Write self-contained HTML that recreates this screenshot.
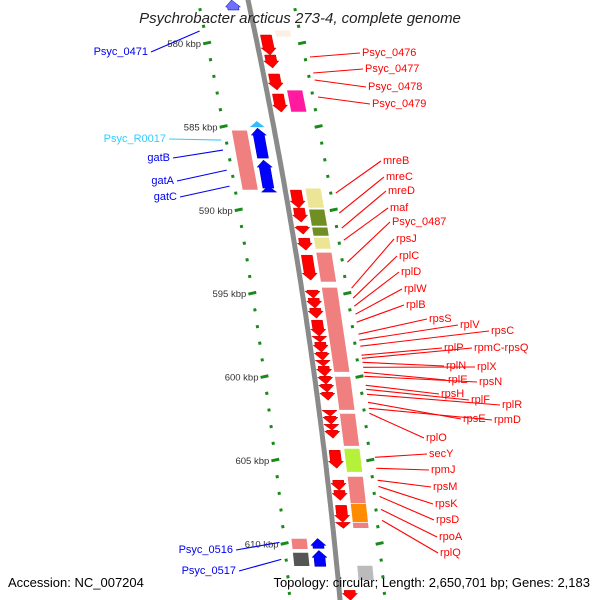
<!DOCTYPE html>
<html><head><meta charset="utf-8"><style>
html,body{margin:0;padding:0;background:#fff;}
svg{display:block;font-family:"Liberation Sans","DejaVu Sans",sans-serif;}
</style></head><body>
<svg id="map" width="600" height="600" viewBox="0 0 600 600" xmlns="http://www.w3.org/2000/svg">
<defs>
<linearGradient id="bb" x1="0" x2="1" y1="0" y2="0"><stop offset="0" stop-color="#555"/><stop offset="0.5" stop-color="#aaa"/><stop offset="1" stop-color="#666"/></linearGradient>
</defs>
<g id="dots"></g>
<path id="backbone" fill="none" stroke="#8a8a8a" stroke-width="5"/>
<g id="genes"></g>
<g id="labels"></g>
<text x="300" y="23" text-anchor="middle" font-size="15" font-style="italic" fill="#222">Psychrobacter arcticus 273-4, complete genome</text>
<text x="8" y="587" font-size="13" fill="#000">Accession: NC_007204</text>
<text x="590" y="587" text-anchor="end" font-size="13" fill="#000">Topology: circular; Length: 2,650,701 bp; Genes: 2,183</text>
</svg>
<script>
// kbp ticks
const tickKbp = [580,585,590,595,600,605,610];
// forward-strand (right) red arrows: starts/ends in kbp
const fwdStart = [579.52,580.72,581.86,583.06,588.82,589.90,590.98,591.70,592.72,594.82,595.30,595.90,596.62,597.58,597.94,598.54,599.02,599.38,599.98,600.46,600.94,602.02,602.38,602.86,603.22,604.42,606.22,606.82,607.72,608.74,612.82];
const fwdEnd   = [580.72,581.50,582.82,584.14,589.90,590.74,591.46,592.42,594.22,595.30,595.90,596.50,597.58,597.94,598.54,599.02,599.38,599.98,600.46,600.94,601.42,602.38,602.86,603.22,603.70,605.50,606.82,607.42,608.74,609.10,613.42];
// category boxes column (right)
const boxStart = [579.22,582.82,588.70,589.96,591.04,591.64,592.54,594.64,599.98,602.20,604.30,605.98,607.60,608.74,611.32];
const boxEnd   = [579.64,584.14,589.90,590.98,591.58,592.36,594.34,599.74,602.02,604.18,605.74,607.60,608.74,609.10,612.22];
const boxColor = ["#fde5d2","#ff1aa0","#ece596","#6f8f22","#6f8f22","#ece596","#f08080","#f08080","#f08080","#f08080","#b5f03a","#f08080","#ff8c00","#f08080","#bbbbbb"];
// reverse strand (left) blue arrows
const revStart = [577.42,585.10,587.02,588.58,609.70,610.42];
const revEnd   = [578.02,586.90,588.70,588.94,610.30,611.38];
// left category boxes
const lboxStart = [585.22,609.70,610.54];
const lboxEnd   = [588.82,610.36,611.38];
const lboxColor = ["#f08080","#f08080","#555555"];
// right labels
const rNames = ["Psyc_0476","Psyc_0477","Psyc_0478","Psyc_0479","mreB","mreC","mreD","maf","Psyc_0487","rpsJ","rplC","rplD","rplW","rplB","rpsS","rplV","rpsC","rplP","rpmC-rpsQ","rplN","rplX","rplE","rpsN","rpsH","rplF","rplR","rpsE","rpmD","rplO","secY","rpmJ","rpsM","rpsK","rpsD","rpoA","rplQ"];
const rLabX = [362,365,368,372,383,386,388,390,392,396,399,401,404,406,429,460,491,444,474,446,477,448,479,441,471,502,463,494,426,429,431,433,435,436,439,440];
const rLabY = [52,68,86,103,160,176,190,207,221,238,255,271,288,304,318,324,330,347,347,365,366,379,381,393,399,404,418,419,437,453,469,486,503,519,536,552];
const rAnchorKbp = [580.84,581.80,582.22,583.24,589.00,590.20,591.10,591.82,593.14,594.70,595.30,595.78,596.26,596.74,597.46,597.82,598.18,598.72,598.90,599.14,599.44,599.74,599.98,600.52,600.76,601.06,601.54,601.90,602.20,604.84,605.50,606.22,606.58,607.18,607.96,608.62];
// left labels
const lNames = ["Psyc_0471","Psyc_R0017","gatB","gatA","gatC","Psyc_0516","Psyc_0517"];
const lColors = ["#0000ee","#33ccff","#0000ee","#0000ee","#0000ee","#0000ee","#0000ee"];
const lLabY = [51,138,157,180,196,549,570];
const lLabEnd = [148,166,170,174,177,233,236];
const lAnchorKbp = [579.28,585.82,586.42,587.62,588.58,609.94,610.96];

const NS="http://www.w3.org/2000/svg";
function yOf(k){return 43+(k-580)*16.68;}
function xb(y){return 248+0.2158*y-0.000104*y*y;}
function mk(tag,attrs,parent){const e=document.createElementNS(NS,tag);for(const a in attrs)e.setAttribute(a,attrs[a]);parent.appendChild(e);return e;}

// backbone
let d="";for(let y=-5;y<=605;y+=5){d+=(y===-5?"M":"L")+xb(y).toFixed(1)+","+y+" ";}
document.getElementById("backbone").setAttribute("d",d);

// tick rings
const dots=document.getElementById("dots");
for(let k=577;k<=614;k++){
  const y=yOf(k); const major=(k%5===0);
  for(const off of [-50,45]){
    const x=xb(y)+off;
    const r=mk("rect",{x:(x-(major?4:1.5)).toFixed(1),y:(y-(major?1.5:1.5)).toFixed(1),width:major?8:3,height:3,fill:"#1a8a1a",transform:"rotate(-12 "+x.toFixed(1)+" "+y.toFixed(1)+")"},dots);
    
    
  }
}
tickKbp.forEach(k=>{
  const y=yOf(k);
  const t=mk("text",{x:(xb(y)-56).toFixed(1),y:(y+4).toFixed(1),"text-anchor":"end","font-size":"9.5",fill:"#333"},dots);
  t.textContent=k+" kbp";
  
  
});

const genes=document.getElementById("genes");
function band(y1,y2,o1,o2){return [[xb(y1)+o1,y1],[xb(y1)+o2,y1],[xb(y2)+o2,y2],[xb(y2)+o1,y2]];}
function pts(a){return a.map(p=>p[0].toFixed(1)+","+p[1].toFixed(1)).join(" ");}
// boxes
boxStart.forEach((s,i)=>{
  const y1=yOf(s),y2=yOf(boxEnd[i]);
  const p=mk("polygon",{points:pts(band(y1,y2,20,36)),fill:boxColor[i],stroke:"#fff","stroke-width":"0.8",opacity:i===0?0.6:1},genes);
  
  
});
lboxStart.forEach((s,i)=>{
  const y1=yOf(s),y2=yOf(lboxEnd[i]);
  const p=mk("polygon",{points:pts(band(y1,y2,-43,-27)),fill:lboxColor[i],stroke:"#fff","stroke-width":"0.8"},genes);
  
  
});
// arrows
function arrow(y1,y2,o1,o2,down){
  const len=y2-y1, head=Math.min(7,len);
  const om=(o1+o2)/2;
  if(down){
    const yh=y2-head;
    return [[xb(y1)+o1+2,y1],[xb(y1)+o2-2,y1],[xb(yh)+o2-2,yh],[xb(yh)+o2,yh],[xb(y2)+om,y2],[xb(yh)+o1,yh],[xb(yh)+o1+2,yh]];
  } else {
    const yh=y1+head;
    return [[xb(y1)+om,y1],[xb(yh)+o2,yh],[xb(yh)+o2-2,yh],[xb(y2)+o2-2,y2],[xb(y2)+o1+2,y2],[xb(yh)+o1+2,yh],[xb(yh)+o1,yh]];
  }
}
fwdStart.forEach((s,i)=>{
  const y1=yOf(s),y2=yOf(fwdEnd[i]);
  const p=mk("polygon",{points:pts(arrow(y1,y2,3,18,true)),fill:"#ff0000",stroke:"#cc0000","stroke-width":"0.5"},genes);
  
  
});
revStart.forEach((s,i)=>{
  const y1=yOf(s),y2=yOf(revEnd[i]);
  const p=mk("polygon",{points:pts(arrow(y1,y2,-24,-9,false)),fill:i===0?"#6f6fff":"#0000ff",stroke:"#0000aa","stroke-width":"0.5"},genes);
  
  
});
// tRNA cyan
{const y1=yOf(584.74),y2=yOf(585.04);const p=mk("polygon",{points:pts([[xb(y1)-16,y1-1],[xb(y2)-9,y2],[xb(y2)-24,y2]]),fill:"#33bbff"},genes);

}

// labels
const labels=document.getElementById("labels");
rNames.forEach((n,i)=>{
  const ya=yOf(rAnchorKbp[i]);
  const l=mk("line",{x1:(xb(ya)+50).toFixed(1),y1:ya.toFixed(1),x2:rLabX[i]-2,y2:rLabY[i]+1,stroke:"#ff0000","stroke-width":"1.1"},labels);
  
  
  const t=mk("text",{x:rLabX[i],y:rLabY[i]+4,"font-size":"11",fill:"#ff0000"},labels);
  t.textContent=n;
  
  
});
lNames.forEach((n,i)=>{
  const ya=yOf(lAnchorKbp[i]);
  const l=mk("line",{x1:lLabEnd[i]+3,y1:lLabY[i]+1,x2:(xb(ya)-55).toFixed(1),y2:ya.toFixed(1),stroke:lColors[i],"stroke-width":"1.1"},labels);
  
  
  const t=mk("text",{x:lLabEnd[i],y:lLabY[i]+4,"text-anchor":"end","font-size":"11",fill:lColors[i]},labels);
  t.textContent=n;
  
  
});
</script>
</body></html>
